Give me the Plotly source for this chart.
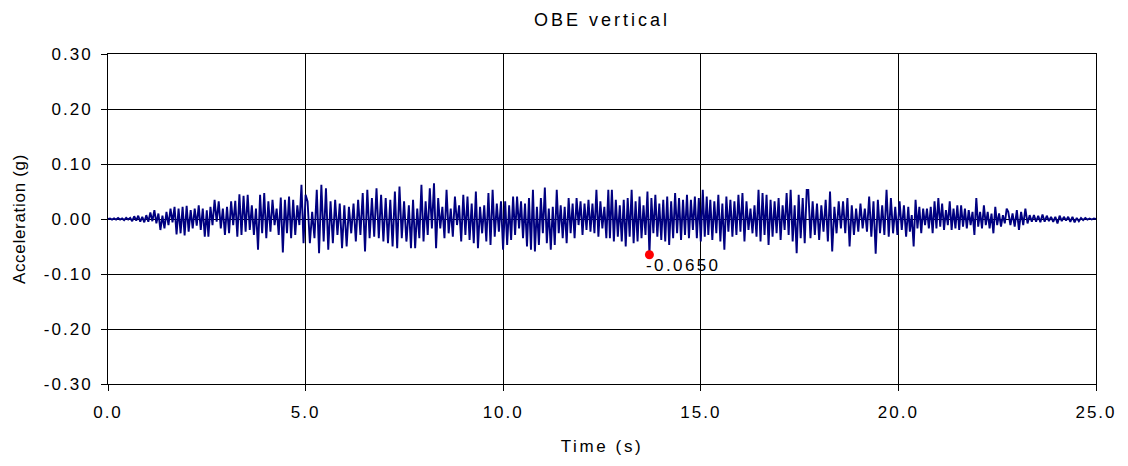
import numpy as np
import plotly.graph_objects as go

# Time span (s) covered by each segment of the vertical OBE record
seg_start = [0.00, 2.54, 5.05, 7.56, 10.10, 12.70, 15.19, 17.72, 20.29, 22.78]
seg_end = [2.50, 5.00, 7.55, 10.05, 12.66, 15.15, 17.68, 20.25, 22.74, 25.00]

# Successive acceleration peaks and troughs (g) within each segment
acc_seg0 = [0.000, 0.001, -0.001, 0.001, -0.001, 0.002, -0.001, 0.001, -0.002, 0.002,
            -0.001, 0.002, -0.004, 0.005, -0.003, 0.006, -0.005, 0.004, -0.006, 0.007,
            -0.005, 0.012, -0.004, 0.016, -0.008, 0.010, -0.020, 0.006, -0.017, 0.013,
            -0.011, 0.019, -0.006, 0.022, -0.028, 0.019, -0.026, 0.022, -0.030, 0.024,
            -0.023, 0.016, -0.017, 0.019, -0.012, 0.025, -0.020, 0.019, -0.032, 0.016]
acc_seg1 = [-0.032, 0.022, -0.011, 0.035, -0.005, 0.032, -0.017, 0.019, -0.029, 0.022,
            -0.026, 0.032, -0.011, 0.033, -0.032, 0.045, -0.029, 0.042, -0.023, 0.044,
            -0.020, 0.025, -0.029, 0.019, -0.056, 0.044, -0.026, 0.047, -0.035, 0.032,
            -0.023, 0.035, -0.011, 0.019, -0.029, 0.039, -0.061, 0.035, -0.026, 0.041,
            -0.035, 0.035, -0.029, 0.025, -0.011, 0.062, -0.044, 0.044]
acc_seg2 = [0.032, -0.044, 0.013, -0.035, 0.053, -0.062, 0.062, -0.041, 0.056, -0.056,
            0.032, -0.044, 0.035, -0.029, 0.028, -0.053, 0.025, -0.050, 0.022, -0.026,
            0.028, -0.041, 0.035, -0.029, 0.047, -0.059, 0.053, -0.035, 0.038, -0.032,
            0.056, -0.035, 0.044, -0.041, 0.038, -0.044, 0.035, -0.050, 0.050, -0.053,
            0.059, -0.035, 0.032, -0.041]
acc_seg3 = [-0.035, 0.025, -0.053, 0.035, -0.053, 0.019, -0.035, 0.062, -0.041, 0.032,
            -0.029, 0.056, -0.017, 0.065, -0.053, 0.038, -0.017, 0.022, -0.035, 0.053,
            -0.026, 0.019, -0.032, 0.041, -0.011, 0.025, -0.041, 0.044, -0.029, 0.041,
            -0.038, 0.028, -0.044, 0.050, -0.053, 0.022, -0.026, 0.025, -0.041, 0.047,
            -0.047, 0.053, -0.032, 0.028, -0.023, 0.032, -0.056, 0.032]
acc_seg4 = [-0.047, 0.025, -0.038, 0.041, -0.029, 0.041, -0.017, 0.032, -0.035, 0.028,
            -0.050, 0.038, -0.056, 0.053, -0.059, 0.022, -0.047, 0.038, -0.026, 0.057,
            -0.044, 0.019, -0.056, 0.022, -0.047, 0.053, -0.026, 0.025, -0.035, 0.022,
            -0.044, 0.038, -0.026, 0.028, -0.035, 0.038, -0.011, 0.032, -0.029, 0.028,
            -0.020, 0.035, -0.023, 0.028, -0.026, 0.053, -0.032, 0.032, -0.017, 0.022,
            -0.035, 0.053]
acc_seg5 = [-0.035, 0.053, -0.041, 0.035, -0.032, 0.025, -0.041, 0.035, -0.050, 0.038,
            -0.032, 0.053, -0.044, 0.032, -0.041, 0.041, -0.035, 0.025, -0.029, 0.050,
            -0.065, 0.038, -0.026, 0.044, -0.032, 0.028, -0.038, 0.035, -0.041, 0.041,
            -0.047, 0.032, -0.035, 0.047, -0.026, 0.038, -0.038, 0.035, -0.029, 0.044,
            -0.035, 0.035, -0.020, 0.041, -0.035, 0.038, -0.041, 0.053, -0.032, 0.041]
acc_seg6 = [-0.029, 0.035, -0.038, 0.032, -0.026, 0.044, -0.041, 0.028, -0.056, 0.041,
            -0.023, 0.035, -0.032, 0.032, -0.029, 0.044, -0.023, 0.047, -0.041, 0.032,
            -0.020, 0.019, -0.026, 0.025, -0.032, 0.053, -0.041, 0.047, -0.029, 0.044,
            -0.047, 0.035, -0.032, 0.032, -0.026, 0.038, -0.038, 0.025, -0.020, 0.047,
            -0.029, 0.053, -0.041, 0.025, -0.062, 0.044, -0.035, 0.038, -0.044, 0.053]
acc_seg7 = [0.053, -0.035, 0.032, -0.029, 0.028, -0.038, 0.025, -0.023, 0.035, -0.041,
            0.050, -0.059, 0.022, -0.026, 0.032, -0.017, 0.032, -0.026, 0.038, -0.050,
            0.025, -0.029, 0.019, -0.023, 0.028, -0.017, 0.019, -0.023, 0.041, -0.032,
            0.032, -0.063, 0.035, -0.026, 0.025, -0.029, 0.053, -0.032, 0.038, -0.026,
            0.022, -0.029, 0.032, -0.020, 0.025, -0.032, 0.022]
acc_seg8 = [-0.023, 0.007, -0.050, 0.035, -0.017, 0.022, -0.026, 0.019, -0.011, 0.019,
            -0.017, 0.022, -0.026, 0.032, -0.017, 0.038, -0.014, 0.028, -0.020, 0.016,
            -0.011, 0.032, -0.020, 0.019, -0.017, 0.025, -0.020, 0.025, -0.014, 0.019,
            -0.017, 0.016, -0.011, 0.013, -0.029, 0.038, -0.014, 0.013, -0.017, 0.025,
            -0.011, 0.013, -0.017, 0.010, -0.026, 0.022, -0.011, 0.010, -0.014, 0.007,
            -0.008, 0.019]
acc_seg9 = [0.013, -0.011, 0.010, -0.014, 0.016, -0.020, 0.013, -0.011, 0.019, -0.008,
            0.007, -0.005, 0.007, -0.005, 0.006, -0.006, 0.008, -0.005, 0.006, -0.004,
            0.004, -0.005, 0.004, -0.008, 0.006, -0.004, 0.004, -0.003, 0.004, -0.005,
            0.004, -0.006, 0.002, -0.004, 0.002, -0.002, 0.002, -0.001, 0.001, -0.001,
            0.001, 0.000]

segments = [acc_seg0, acc_seg1, acc_seg2, acc_seg3, acc_seg4,
            acc_seg5, acc_seg6, acc_seg7, acc_seg8, acc_seg9]

# Axis ticks and their labels
x_ticks = [0, 5, 10, 15, 20, 25]
x_tick_labels = ["0.0", "5.0", "10.0", "15.0", "20.0", "25.0"]
y_ticks = [-0.3, -0.2, -0.1, 0.0, 0.1, 0.2, 0.3]
y_tick_labels = ["-0.30", "-0.20", "-0.10", "0.00", "0.10", "0.20", "0.30"]

# Assemble the record: each segment's samples spread evenly over its span
time = np.concatenate([np.linspace(s, e, len(vals))
                       for s, e, vals in zip(seg_start, seg_end, segments)])
accel = np.concatenate([np.asarray(vals, dtype=float) for vals in segments])

# Peak (most negative) acceleration, highlighted and labelled
i_pk = int(np.argmin(accel))
t_pk, a_pk = float(time[i_pk]), float(accel[i_pk])

FONT = "Liberation Sans, Arial, sans-serif"

fig = go.Figure()
fig.add_trace(go.Scatter(
    x=time, y=accel, mode="lines",
    line=dict(color="#000080", width=1.9),
    hoverinfo="skip",
))
fig.add_trace(go.Scatter(
    x=[t_pk], y=[a_pk], mode="markers",
    marker=dict(color="#ff0000", size=9),
    hoverinfo="skip",
))
fig.add_annotation(
    x=t_pk, y=a_pk, xref="x", yref="y",
    text=f"{a_pk:.4f}".replace("\u2212", "-"),
    showarrow=False, xanchor="left", yanchor="top", align="left",
    xshift=-5, yshift=1,
    font=dict(family=FONT, size=17, color="black"),
)

axis_common = dict(
    showgrid=True, gridcolor="black", gridwidth=1,
    showline=True, linecolor="black", linewidth=1, mirror=True,
    ticks="outside", ticklen=6, tickcolor="black", tickwidth=1,
    zeroline=False,
    tickfont=dict(family=FONT, size=17, color="black"),
)

fig.update_xaxes(
    range=[0, 25], tickmode="array", tickvals=x_ticks, ticktext=x_tick_labels,
    ticklabelstandoff=7,
    title=dict(text="Time (s)", standoff=18,
               font=dict(family=FONT, size=17, color="black")),
    **axis_common,
)
fig.update_yaxes(
    range=[-0.3, 0.3], tickmode="array", tickvals=y_ticks, ticktext=y_tick_labels,
    ticklabelstandoff=5,
    title=dict(text="Acceleration (g)", standoff=23,
               font=dict(family=FONT, size=17, color="black")),
    **axis_common,
)

fig.update_layout(
    width=1128, height=466,
    margin=dict(l=108, r=32, t=54, b=82, autoexpand=False),
    paper_bgcolor="white", plot_bgcolor="white",
    showlegend=False,
    font=dict(family=FONT, size=17, color="black"),
    title=dict(text="OBE vertical", x=602 / 1128, xanchor="center",
               y=1 - 20 / 466, yanchor="middle", yref="container",
               font=dict(family=FONT, size=18, color="black")),
)

# Wider letter spacing for the chart's labels
spacing_js = """
var gd = document.getElementById('{plot_id}');
var rules = [
  ['.xtick text, .ytick text', '2px'],
  ['.gtitle', '3px'],
  ['.xtitle', '2.6px'],
  ['.ytitle', '0.7px'],
  ['.annotation-text', '2.4px']
];
function spaceLabels() {
  rules.forEach(function (r) {
    gd.querySelectorAll(r[0]).forEach(function (el) {
      el.style.letterSpacing = r[1];
    });
  });
}
spaceLabels();
gd.on('plotly_afterplot', spaceLabels);
"""

fig.write_html("out.html", post_script=spacing_js)
